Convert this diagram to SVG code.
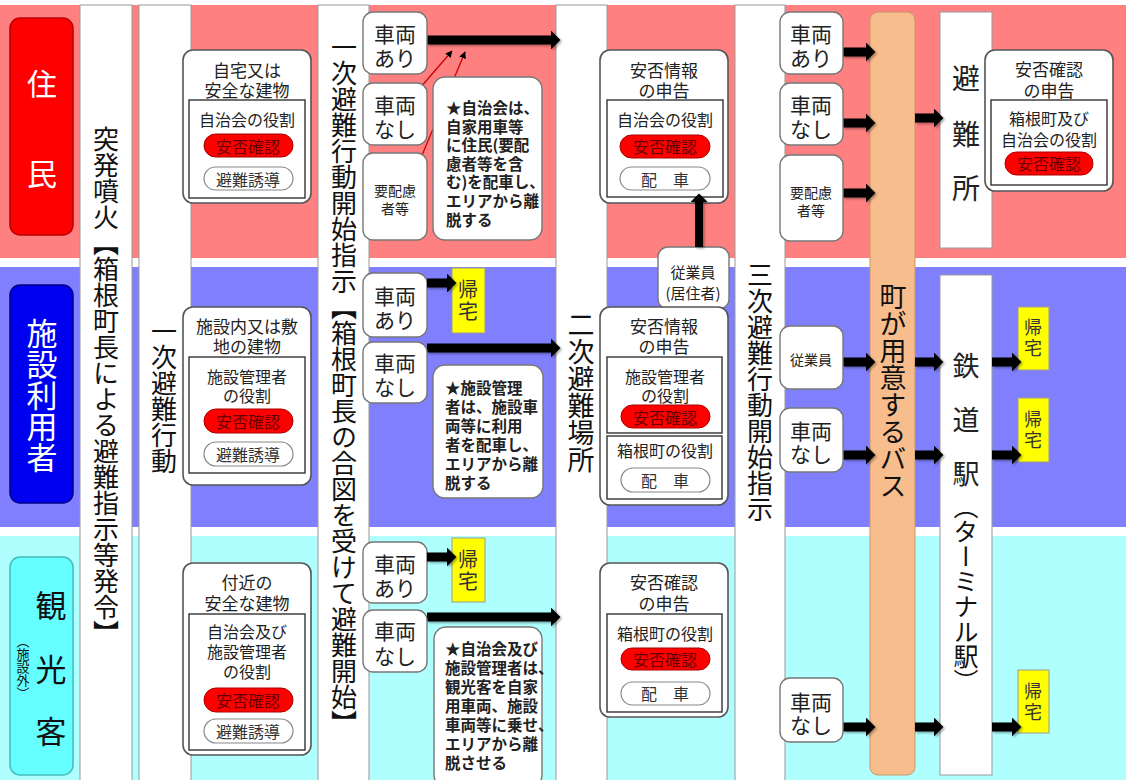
<svg xmlns="http://www.w3.org/2000/svg" width="1126" height="780" viewBox="0 0 1126 780">
<style>
text{font-family:"Noto Sans CJK JP","Noto Sans CJK SC",sans-serif;fill:#222;dominant-baseline:central;text-anchor:middle}
.v{writing-mode:vertical-rl;font-size:26px;fill:#111}
.col{fill:#fff;stroke:#999;stroke-width:1}
.box{fill:#fff;stroke:#555;stroke-width:1.6}
.inner{fill:#fff;stroke:#333;stroke-width:1.4}
.pr{fill:#f00;stroke:#a00;stroke-width:1}
.pw{fill:#fff;stroke:#888;stroke-width:1.2}
.sb{fill:#fff;stroke:#777;stroke-width:1.4}
.yl{fill:#ff0;stroke:#999;stroke-width:1}
.t17{font-size:17px}
.t16{font-size:16px}
.t21{font-size:21px}
.t14{font-size:14px}
.tr{font-size:16px;fill:#600}
.tw{font-size:16px;fill:#333}
.st{font-size:15.5px;font-weight:bold;text-anchor:start}
.ky{writing-mode:vertical-rl;font-size:20px;letter-spacing:2px;fill:#333}
.ky2{writing-mode:vertical-rl;font-size:18px;letter-spacing:3px;fill:#333}
.big{stroke:#000;stroke-width:9;fill:none;marker-end:url(#ah);filter:url(#sh)}
.red{stroke:#c00;stroke-width:1.3;fill:none;marker-end:url(#rh)}
</style>
<defs>
<filter id="sh" filterUnits="userSpaceOnUse" x="0" y="0" width="1126" height="780"><feDropShadow dx="1.5" dy="1.5" stdDeviation="1" flood-color="#000" flood-opacity="0.35"/></filter>
<marker id="ah" viewBox="0 0 10 20" refX="0" refY="10" markerWidth="1.25" markerHeight="2.1" orient="auto" markerUnits="strokeWidth"><path d="M0,0 L10,10 L0,20 Z" fill="#000"/></marker>
<marker id="rh" viewBox="0 0 10 10" refX="9" refY="5" markerWidth="7" markerHeight="7" orient="auto" markerUnits="userSpaceOnUse"><path d="M0,0 L10,5 L0,10 Z" fill="#000"/></marker>
</defs>

<g id="bands">
<rect x="0" y="5" width="1126" height="253" fill="#ff8080"/>
<rect x="0" y="267" width="1126" height="260" fill="#8080ff"/>
<rect x="0" y="536" width="1126" height="244" fill="#b0ffff"/>
</g>

<g id="label-jumin"><rect x="10" y="18" width="63" height="217" rx="10" fill="#f00" stroke="#b00" stroke-width="1.5"/>
<text x="42" y="82" style="font-size:30px;fill:#fff">住</text><text x="42" y="172" style="font-size:30px;fill:#fff">民</text></g>
<g id="label-shisetsu"><rect x="10" y="285" width="63" height="218" rx="10" fill="#0000f0" stroke="#008" stroke-width="1.5"/>
<text x="42" y="395" class="v" style="font-size:31px;fill:#fff">施設利用者</text></g>
<g id="label-kanko"><rect x="10" y="557" width="63" height="218" rx="10" fill="#66ffff" stroke="#4bb" stroke-width="1.5"/>
<text x="51" y="603" style="font-size:31px;fill:#111">観</text><text x="51" y="667" style="font-size:31px;fill:#111">光</text><text x="51" y="729" style="font-size:31px;fill:#111">客</text>
<text x="23" y="667" class="v" style="font-size:13px">（施設外）</text></g>

<g id="col-hatsurei"><rect class="col" x="80" y="5" width="52" height="777"/>
<text x="106" y="386" class="v">突発噴火【箱根町長による避難指示等発令】</text></g>
<g id="col-ichiji"><rect class="col" x="139" y="5" width="52" height="777"/>
<text x="164" y="396" class="v">一次避難行動</text></g>
<g id="col-ichiji-shiji"><rect class="col" x="318" y="5" width="51" height="777"/>
<text x="344" y="385" class="v">一次避難行動開始指示【箱根町長の合図を受けて避難開始】</text></g>
<g id="col-niji"><rect class="col" x="556" y="5" width="51" height="777"/>
<text x="581" y="392" class="v" style="font-size:27px">二次避難場所</text></g>
<g id="col-sanji"><rect class="col" x="735" y="5" width="50" height="777"/>
<text x="760" y="392" class="v">三次避難行動開始指示</text></g>
<g id="bus"><rect x="870" y="12" width="45" height="763" rx="8" fill="#f8bd8c" stroke="#c9956a" stroke-width="1"/>
<text x="893" y="391" class="v" style="font-size:27px">町が用意するバス</text></g>
<g id="hinanjo"><rect class="col" x="940" y="12" width="52" height="236"/>
<text x="966" y="77" style="font-size:28px">避</text><text x="966" y="133" style="font-size:28px">難</text><text x="966" y="187" style="font-size:28px">所</text></g>
<g id="station"><rect class="col" x="940" y="275" width="52" height="500"/>
<text x="966" y="364" style="font-size:27px">鉄</text><text x="966" y="418" style="font-size:27px">道</text><text x="966" y="472" style="font-size:27px">駅</text>
<text x="966" y="494" class="v" style="font-size:25px;text-anchor:start">（ターミナル駅）</text></g>

<g id="connectors">
<path class="red" d="M420,88 L452,51"/>
<path class="red" d="M420,160 L433,129 M454.6,77 L465,52"/>
<circle cx="420" cy="88" r="3" fill="#000"/>
<circle cx="420" cy="160" r="3" fill="#000"/>
<line class="big" x1="427" y1="40" x2="551" y2="40"/>
<line class="big" x1="427" y1="348" x2="551" y2="348"/>
<line class="big" x1="427" y1="617" x2="551" y2="617"/>
<line class="big" x1="843" y1="52" x2="866" y2="52"/>
<line class="big" x1="843" y1="123" x2="866" y2="123"/>
<line class="big" x1="843" y1="193" x2="866" y2="193"/>
<line class="big" x1="915" y1="118" x2="934" y2="118"/>
<line class="big" x1="843" y1="362" x2="866" y2="362"/>
<line class="big" x1="915" y1="362" x2="934" y2="362"/>
<line class="big" x1="843" y1="455" x2="866" y2="455"/>
<line class="big" x1="915" y1="455" x2="934" y2="455"/>
<line class="big" x1="843" y1="727" x2="866" y2="727"/>
<line class="big" x1="915" y1="727" x2="934" y2="727"/>
</g>

<g id="n-jitaku"><rect class="box" x="183" y="50" width="128" height="153" rx="10"/>
<text x="247" y="69" class="t17">自宅又は<tspan x="247" y="89">安全な建物</tspan></text>
<rect class="inner" x="189" y="100" width="116" height="98"/>
<text x="247" y="119" class="t16">自治会の役割</text>
<rect class="pr" x="204" y="134" width="89" height="23" rx="11.5"/><text x="248" y="146" class="tr">安否確認</text>
<rect class="pw" x="204" y="167" width="89" height="23" rx="11.5"/><text x="248" y="179" class="tw">避難誘導</text></g>

<g id="n-shisetsunai"><rect class="box" x="183" y="307" width="128" height="178" rx="10"/>
<text x="247" y="325" class="t17">施設内又は敷<tspan x="247" y="345">地の建物</tspan></text>
<rect class="inner" x="189" y="357" width="116" height="116"/>
<text x="247" y="376" class="t16">施設管理者<tspan x="247" y="395">の役割</tspan></text>
<rect class="pr" x="204" y="409" width="89" height="24" rx="12"/><text x="248" y="421" class="tr">安否確認</text>
<rect class="pw" x="204" y="442" width="89" height="24" rx="12"/><text x="248" y="454" class="tw">避難誘導</text></g>

<g id="n-fukin"><rect class="box" x="183" y="563" width="128" height="192" rx="10"/>
<text x="247" y="581" class="t17">付近の<tspan x="247" y="602">安全な建物</tspan></text>
<rect class="inner" x="189" y="614" width="116" height="136"/>
<text x="247" y="631" class="t16">自治会及び<tspan x="247" y="651">施設管理者</tspan><tspan x="247" y="671">の役割</tspan></text>
<rect class="pr" x="204" y="688" width="89" height="24" rx="12"/><text x="248" y="700" class="tr">安否確認</text>
<rect class="pw" x="204" y="719" width="89" height="24" rx="12"/><text x="248" y="731" class="tw">避難誘導</text></g>

<g id="n-j-ari"><rect class="sb" x="363" y="12" width="64" height="62" rx="10"/><text x="395" y="33" class="t21">車両<tspan x="395" y="57">あり</tspan></text></g>
<g id="n-j-nashi"><rect class="sb" x="363" y="83" width="64" height="62" rx="10"/><text x="395" y="104" class="t21">車両<tspan x="395" y="128">なし</tspan></text></g>
<g id="n-j-yohairyo"><rect class="sb" x="363" y="153" width="64" height="87" rx="10"/><text x="395" y="190" class="t14">要配慮<tspan x="395" y="208">者等</tspan></text></g>
<g id="n-j-star"><rect class="sb" x="433" y="77" width="109" height="163" rx="12"/>
<text x="446" y="107" class="st">★自治会は、<tspan x="446" y="125.6">自家用車等</tspan><tspan x="446" y="144.2">に住民(要配</tspan><tspan x="446" y="162.8">慮者等を含</tspan><tspan x="446" y="181.4">む)を配車し、</tspan><tspan x="446" y="200">エリアから離</tspan><tspan x="446" y="218.6">脱する</tspan></text></g>

<g id="n-s-ari"><rect class="sb" x="363" y="273" width="64" height="64" rx="10"/><text x="395" y="295" class="t21">車両<tspan x="395" y="319">あり</tspan></text></g>
<g id="n-s-kitaku"><rect class="yl" x="452" y="268" width="33" height="65"/><text x="468" y="301" class="ky">帰宅</text></g>
<g id="n-s-nashi"><rect class="sb" x="363" y="342" width="64" height="61" rx="10"/><text x="395" y="362" class="t21">車両<tspan x="395" y="386">なし</tspan></text></g>
<g id="n-s-star"><rect class="sb" x="433" y="365" width="110" height="133" rx="12"/>
<text x="445" y="387" class="st">★施設管理<tspan x="445" y="406">者は、施設車</tspan><tspan x="445" y="425">両等に利用</tspan><tspan x="445" y="444">者を配車し、</tspan><tspan x="445" y="463">エリアから離</tspan><tspan x="445" y="482">脱する</tspan></text></g>

<g id="n-k-ari"><rect class="sb" x="363" y="542" width="64" height="61" rx="10"/><text x="395" y="563" class="t21">車両<tspan x="395" y="587">あり</tspan></text></g>
<g id="n-k-kitaku"><rect class="yl" x="452" y="538" width="33" height="64"/><text x="468" y="571" class="ky">帰宅</text></g>
<g id="n-k-nashi"><rect class="sb" x="363" y="610" width="64" height="62" rx="10"/><text x="395" y="630" class="t21">車両<tspan x="395" y="655">なし</tspan></text></g>
<g id="n-k-star"><rect class="sb" x="434" y="627" width="108" height="160" rx="12"/>
<text x="445" y="648" class="st">★自治会及び<tspan x="445" y="667">施設管理者は、</tspan><tspan x="445" y="686">観光客を自家</tspan><tspan x="445" y="705">用車両、施設</tspan><tspan x="445" y="724">車両等に乗せ、</tspan><tspan x="445" y="743">エリアから離</tspan><tspan x="445" y="762">脱させる</tspan></text></g>

<g id="n-j-anpi"><rect class="box" x="600" y="50" width="128" height="153" rx="10"/>
<text x="664" y="69" class="t17">安否情報<tspan x="664" y="89">の申告</tspan></text>
<rect class="inner" x="607" y="100" width="116" height="97"/>
<text x="665" y="119" class="t16">自治会の役割</text>
<rect class="pr" x="620" y="135" width="90" height="23" rx="11.5"/><text x="665" y="146" class="tr">安否確認</text>
<rect class="pw" x="620" y="167" width="90" height="23" rx="11.5"/><text x="665" y="179" class="tw">配　車</text></g>
<g id="n-jugyoin"><rect class="sb" x="658" y="247" width="71" height="62" rx="10"/><text x="693" y="271" style="font-size:15px">従業員<tspan x="693" y="292">(居住者)</tspan></text></g>

<g id="n-s-anpi"><rect class="box" x="600" y="307" width="128" height="198" rx="10"/>
<text x="664" y="325" class="t17">安否情報<tspan x="664" y="345">の申告</tspan></text>
<rect class="inner" x="607" y="357" width="115" height="76"/>
<text x="665" y="376" class="t16">施設管理者<tspan x="665" y="395">の役割</tspan></text>
<rect class="pr" x="621" y="405" width="89" height="23" rx="11.5"/><text x="665" y="417" class="tr">安否確認</text>
<rect class="inner" x="607" y="436" width="115" height="63"/>
<text x="665" y="450" class="t16">箱根町の役割</text>
<rect class="pw" x="621" y="468" width="89" height="24" rx="12"/><text x="665" y="480" class="tw">配　車</text></g>

<g id="n-k-anpi"><rect class="box" x="600" y="563" width="128" height="154" rx="10"/>
<text x="664" y="581" class="t17">安否確認<tspan x="664" y="602">の申告</tspan></text>
<rect class="inner" x="607" y="614" width="115" height="98"/>
<text x="665" y="633" class="t16">箱根町の役割</text>
<rect class="pr" x="621" y="648" width="89" height="22" rx="11"/><text x="665" y="659" class="tr">安否確認</text>
<rect class="pw" x="621" y="682" width="89" height="23" rx="11.5"/><text x="665" y="693" class="tw">配　車</text></g>

<g id="n-r-j-ari"><rect class="sb" x="780" y="12" width="63" height="62" rx="10"/><text x="811" y="33" class="t21">車両<tspan x="811" y="57">あり</tspan></text></g>
<g id="n-r-j-nashi"><rect class="sb" x="780" y="83" width="63" height="62" rx="10"/><text x="811" y="104" class="t21">車両<tspan x="811" y="128">なし</tspan></text></g>
<g id="n-r-j-yohairyo"><rect class="sb" x="780" y="155" width="63" height="86" rx="10"/><text x="811" y="192" class="t14">要配慮<tspan x="811" y="210">者等</tspan></text></g>
<g id="n-r-anpi"><rect class="box" x="985" y="50" width="128" height="141" rx="10"/>
<text x="1049" y="68" class="t17">安否確認<tspan x="1049" y="89">の申告</tspan></text>
<rect class="inner" x="991" y="100" width="116" height="85"/>
<text x="1049" y="118" class="t16">箱根町及び<tspan x="1049" y="139">自治会の役割</tspan></text>
<rect class="pr" x="1005" y="152" width="88" height="23" rx="11.5"/><text x="1049" y="163" class="tr">安否確認</text></g>

<g id="n-r-s-jugyoin"><rect class="sb" x="780" y="326" width="63" height="63" rx="10"/><text x="811" y="359" class="t14">従業員</text></g>
<g id="n-r-s-nashi"><rect class="sb" x="780" y="408" width="63" height="64" rx="10"/><text x="811" y="430" class="t21">車両<tspan x="811" y="453">なし</tspan></text></g>
<g id="n-r-kitaku1"><rect class="yl" x="1018" y="307" width="31" height="63"/><text x="1033" y="339" class="ky2">帰宅</text></g>
<g id="n-r-kitaku2"><rect class="yl" x="1018" y="398" width="31" height="64"/><text x="1033" y="431" class="ky2">帰宅</text></g>
<g id="n-r-k-nashi"><rect class="sb" x="780" y="678" width="63" height="64" rx="10"/><text x="811" y="701" class="t21">車両<tspan x="811" y="724">なし</tspan></text></g>
<g id="n-r-kitaku3"><rect class="yl" x="1018" y="670" width="31" height="63"/><text x="1033" y="703" class="ky2">帰宅</text></g>

<g id="connectors-top">
<line class="big" x1="427" y1="283" x2="447" y2="283"/>
<line class="big" x1="427" y1="557" x2="447" y2="557"/>
<line class="big" style="stroke-width:8" x1="699" y1="247" x2="699" y2="202"/>
<line class="big" x1="992" y1="362" x2="1012" y2="362"/>
<line class="big" x1="992" y1="455" x2="1012" y2="455"/>
<line class="big" x1="992" y1="727" x2="1012" y2="727"/>
</g>
</svg>
